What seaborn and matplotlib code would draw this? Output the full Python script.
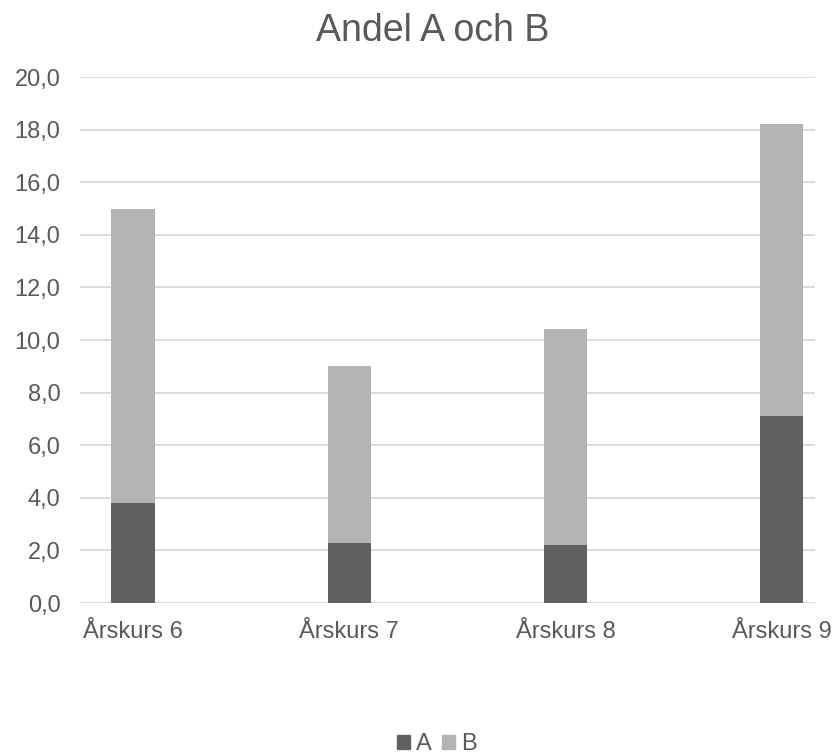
import pandas as pd
import seaborn as sns
import matplotlib.pyplot as plt
from matplotlib.patches import Patch

# Data
grades = ["Årskurs 6", "Årskurs 7", "Årskurs 8", "Årskurs 9"]
share_a = [3.8, 2.3, 2.2, 7.1]
share_b = [11.2, 6.7, 8.2, 11.1]
y_ticks = [0, 2, 4, 6, 8, 10, 12, 14, 16, 18, 20]

df = pd.DataFrame({"grade": grades, "A": share_a, "B": share_b})
df["total"] = df["A"] + df["B"]

sns.set_theme(style="white")
plt.rcParams["font.family"] = ["Liberation Sans", "DejaVu Sans"]

col_a = "#606060"
col_b = "#b3b3b3"
txt = "#595959"

fig = plt.figure(figsize=(8.35, 7.55), dpi=100)
ax = fig.add_axes([0.0958, 0.2013, 0.880, 0.6967])

# stacked bars: total (B on top) first, then A over it
sns.barplot(data=df, x="grade", y="total", color=col_b, width=0.2,
            saturation=1, linewidth=0, ax=ax, zorder=3)
sns.barplot(data=df, x="grade", y="A", color=col_a, width=0.2,
            saturation=1, linewidth=0, ax=ax, zorder=4)

ax.set_xlim(-0.245, 3.153)
ax.set_ylim(0, 20)
ax.set_yticks(y_ticks)
ax.set_yticklabels([f"{v:.1f}".replace(".", ",") for v in y_ticks])
ax.yaxis.grid(True, color="#d9d9d9", linewidth=1.3, zorder=0)
ax.set_axisbelow(True)
for s in ax.spines.values():
    s.set_visible(False)
ax.set_xlabel("")
ax.set_ylabel("")
ax.tick_params(axis="both", length=0, labelsize=17, colors=txt)
ax.tick_params(axis="y", pad=14)
ax.tick_params(axis="x", pad=13)

fig.text(0.518, 0.946, "Andel A och B", ha="center", va="baseline",
         fontsize=27, color=txt)

handles = [Patch(color=col_a, label="A"), Patch(color=col_b, label="B")]
fig.legend(handles=handles, loc="center", bbox_to_anchor=(0.523, 0.014),
           ncol=2, frameon=False, fontsize=17, handlelength=0.55,
           handleheight=0.55, handletextpad=0.25, columnspacing=0.47,
           labelcolor=txt, borderpad=0)

fig.savefig("out.png", dpi=100)
